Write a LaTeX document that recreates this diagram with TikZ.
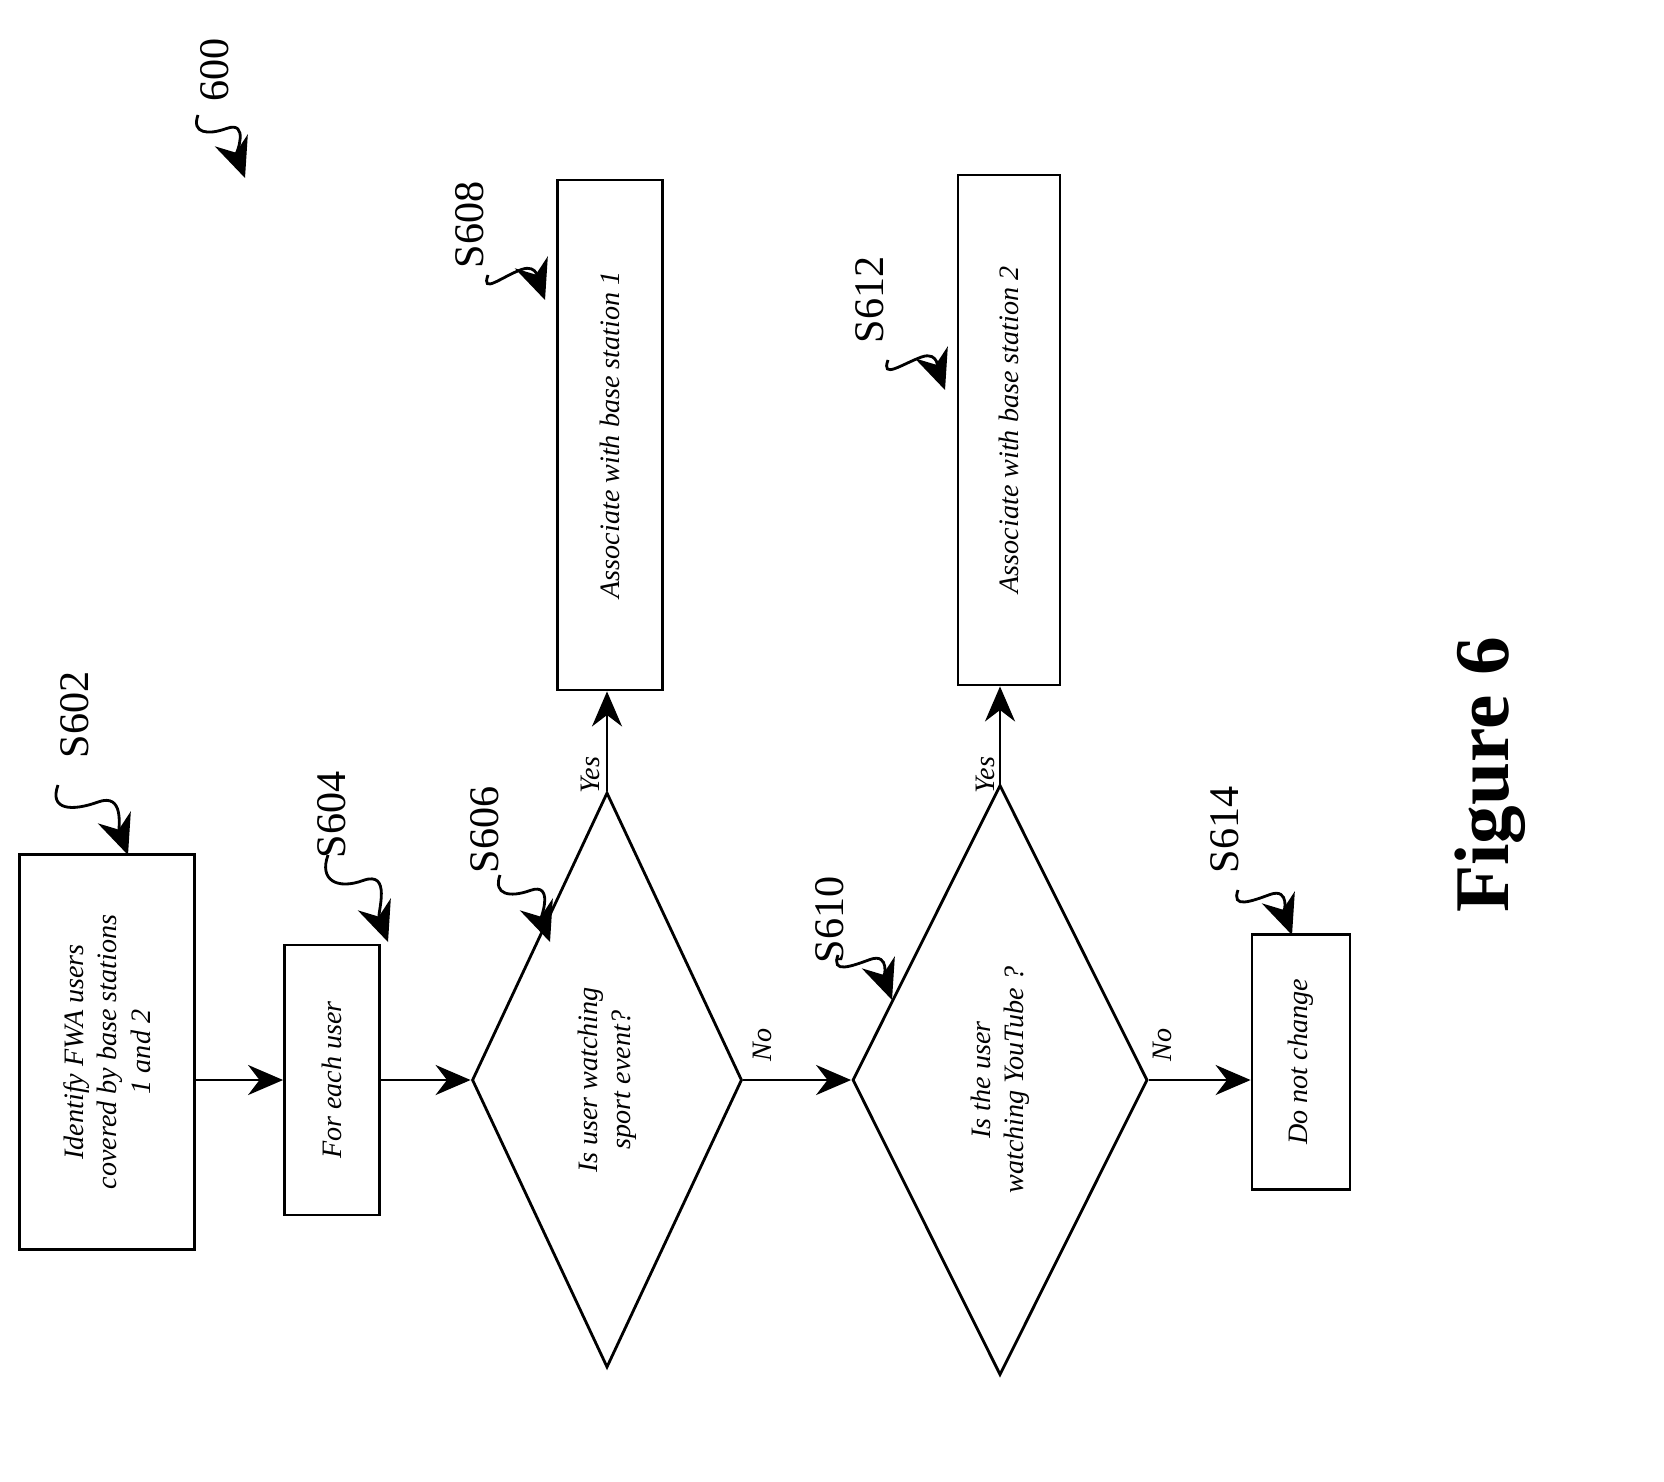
\documentclass[tikz,border=0pt]{standalone}
\usepackage{fontspec}
\setmainfont{Liberation Serif}
\usetikzlibrary{shapes.geometric,arrows.meta,calc}

\tikzset{
  box/.style={draw, thick, rotate=90, font=\footnotesize\itshape, align=center},
  dec/.style={draw, thick, diamond, aspect=2.1, rotate=90, font=\footnotesize\itshape, align=center, inner sep=0pt},
  flow/.style={thick, -{Stealth[length=3.5mm,width=3mm]}},
  squig/.style={thick, -{Stealth[length=4mm,width=3.5mm]}},
  steplabel/.style={rotate=90, font=\large},
  ans/.style={rotate=90, font=\footnotesize\itshape},
}
\newcommand\squiggle[2]{%
  \draw[squig] (#1) to[out=-110,in=-160,looseness=1.6] ($(#1)!0.5!(#2)+(0.05,0.18)$) to[out=20,in=110,looseness=1.2] (#2);}

\begin{document}
\begin{tikzpicture}
      \useasboundingbox (0,0) rectangle (16.64,-14.81);

      % process boxes
      \node[box, minimum width=3.95cm, minimum height=1.75cm] (s602) at (1.07,-10.52)
        {Identify FWA users\\covered by base stations\\1 and 2};
      \node[box, minimum width=2.7cm, minimum height=0.95cm] (s604) at (3.32,-10.80) {For each user};
      \node[box, minimum width=5.1cm, minimum height=1.05cm] (s608) at (6.10,-4.35) {Associate with base station 1};
      \node[box, minimum width=5.1cm, minimum height=1.02cm] (s612) at (10.09,-4.30) {Associate with base station 2};
      \node[box, minimum width=2.55cm, minimum height=0.98cm] (s614) at (13.01,-10.62) {Do not change};

      % decisions
      \node[dec, minimum width=5.75cm, minimum height=2.7cm] (s606) at (6.07,-10.80)
        {Is user watching\\sport event?};
      \node[dec, minimum width=5.9cm, minimum height=2.95cm] (s610) at (10.00,-10.80)
        {Is the user\\watching YouTube ?};

      % connectors
      \draw[flow] (s602.south |- s604) -- (s604.north);
      \draw[flow] (s604.south) -- (s606.north);
      \draw[flow] (s606.south) -- (s610.north);
      \draw[flow] (s610.south) -- (s614.north |- s610);
      \draw[flow] (s606.east) -- (s606.east |- s608.west);
      \draw[flow] (s610.east) -- (s610.east |- s612.west);

      \node[ans] (y1) at (5.90,-7.75) {Yes};
      \node[ans] (y2) at (9.85,-7.75) {Yes};
      \node[ans] (n1) at (7.62,-10.45) {No};
      \node[ans] (n2) at (11.62,-10.45) {No};

      % step labels
      \node[steplabel] (l600) at (2.15,-0.70) {600};
      \node[steplabel] (l602) at (0.75,-7.15) {S602};
      \node[steplabel] (l604) at (3.32,-8.15) {S604};
      \node[steplabel] (l606) at (4.85,-8.30) {S606};
      \node[steplabel] (l608) at (4.70,-2.25) {S608};
      \node[steplabel] (l610) at (8.30,-9.20) {S610};
      \node[steplabel] (l612) at (8.70,-3.00) {S612};
      \node[steplabel] (l614) at (12.25,-8.30) {S614};

      \coordinate (a600) at (1.98,-1.15); \coordinate (b600) at (2.45,-1.78);
      \coordinate (a602) at (0.58,-7.85); \coordinate (b602) at (1.28,-8.55);
      \coordinate (a604) at (3.28,-8.55); \coordinate (b604) at (3.88,-9.42);
      \coordinate (a606) at (5.00,-8.75); \coordinate (b606) at (5.50,-9.42);
      \coordinate (a608) at (4.88,-2.75); \coordinate (b608) at (5.45,-3.00);
      \coordinate (a610) at (8.38,-9.55); \coordinate (b610) at (8.92,-10.00);
      \coordinate (a612) at (8.88,-3.60); \coordinate (b612) at (9.45,-3.90);
      \coordinate (a614) at (12.38,-8.90); \coordinate (b614) at (12.92,-9.35);
      \foreach \s in {600,602,604,606,608,610,612,614}
        \squiggle{a\s}{b\s};

      \node[rotate=90, font=\fontsize{22}{26}\selectfont\bfseries] (fig) at (14.90,-7.75) {Figure 6};
\end{tikzpicture}
\end{document}
